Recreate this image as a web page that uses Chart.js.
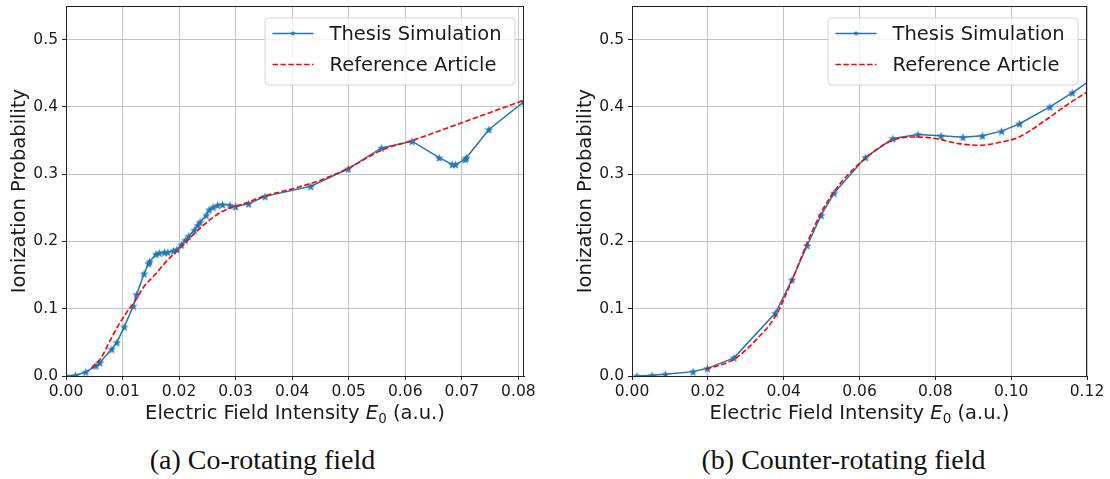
<!DOCTYPE html>
<html>
<head>
<meta charset="utf-8">
<script src="https://cdn.jsdelivr.net/npm/chart.js@4"></script>
<style>
  body { margin: 0; background: #fff; }
  #wrap { position: relative; width: 1110px; height: 479px; }
  .panel { position: absolute; top: 0; }
  .caption {
    position: absolute; top: 444px; width: 555px; text-align: center;
    font-family: "Liberation Serif", serif; font-size: 28px; color: #111;
  }
</style>
</head>
<body>
<div id="wrap">
  <canvas id="co-chart" class="panel" style="left:0" width="555" height="430"></canvas>
  <canvas id="counter-chart" class="panel" style="left:555px" width="555" height="430"></canvas>
  <div class="caption" style="left:-15px">(a) Co-rotating field</div>
  <div class="caption" style="left:566px">(b) Counter-rotating field</div>
</div>
<script>
//Co-rotating field - thesis simulation
const coSimE = [0.0000, 0.0017, 0.0035, 0.0053, 0.0060, 0.0081, 0.0090, 0.0103, 0.0119, 0.0125,
  0.0138, 0.0146, 0.0148, 0.0159, 0.0165, 0.0174, 0.0180, 0.0190, 0.0196, 0.0204,
  0.0211, 0.0217, 0.0227, 0.0233, 0.0237, 0.0248, 0.0253, 0.0260, 0.0268, 0.0277,
  0.0290, 0.0300, 0.0323, 0.0352, 0.0433, 0.0499, 0.0558, 0.0612, 0.0660, 0.0683,
  0.0689, 0.0706, 0.0708, 0.0748, 0.0810];
const coSimP = [0.000, 0.001, 0.006, 0.015, 0.020, 0.040, 0.050, 0.073, 0.104, 0.121,
  0.152, 0.167, 0.170, 0.181, 0.183, 0.184, 0.184, 0.186, 0.188, 0.195,
  0.202, 0.208, 0.217, 0.224, 0.229, 0.239, 0.247, 0.251, 0.254, 0.255,
  0.254, 0.252, 0.256, 0.267, 0.282, 0.308, 0.339, 0.349, 0.3245, 0.3145,
  0.3145, 0.322, 0.3245, 0.3665, 0.408];

//Co-rotating field - reference article
const coRefE = [0.0045, 0.0062, 0.0077, 0.0091, 0.0106, 0.0121, 0.0138, 0.0159, 0.0177, 0.0199,
  0.0224, 0.0247, 0.0271, 0.0294, 0.0318, 0.0342, 0.0412, 0.0450, 0.0500, 0.0559,
  0.0612, 0.0705, 0.0820];
const coRefP = [0.012, 0.027, 0.051, 0.073, 0.093, 0.110, 0.133, 0.152, 0.170, 0.188,
  0.209, 0.227, 0.242, 0.251, 0.257, 0.265, 0.281, 0.291, 0.309, 0.336,
  0.350, 0.378, 0.413];

//Counter-rotating field - thesis simulation
const ctrSimE = [0.0013, 0.0053, 0.0088, 0.0161, 0.0199, 0.0269, 0.0378, 0.0422, 0.0462, 0.0499,
  0.0533, 0.0616, 0.0688, 0.0754, 0.0815, 0.0873, 0.0924, 0.0975, 0.1022, 0.1102,
  0.1161, 0.1215];
const ctrSimP = [0.000, 0.001, 0.0025, 0.0065, 0.0114, 0.027, 0.0935, 0.143, 0.194, 0.239,
  0.272, 0.325, 0.353, 0.359, 0.357, 0.355, 0.357, 0.364, 0.375, 0.400,
  0.421, 0.442];

//Counter-rotating field - reference article
const ctrRefE = [0.0195, 0.0269, 0.0336, 0.0378, 0.0422, 0.0462, 0.0499, 0.0534, 0.0600, 0.0686,
  0.0748, 0.0800, 0.0862, 0.0919, 0.0967, 0.1020, 0.1090, 0.1152, 0.1200];
const ctrRefP = [0.010, 0.025, 0.059, 0.0886, 0.142, 0.198, 0.243, 0.275, 0.316, 0.350,
  0.3553, 0.353, 0.3454, 0.343, 0.347, 0.355, 0.380, 0.405, 0.422];

const yTicks = [0, 0.1, 0.2, 0.3, 0.4, 0.5];
const coXTicks = [0, 0.01, 0.02, 0.03, 0.04, 0.05, 0.06, 0.07, 0.08];
const ctrXTicks = [0, 0.02, 0.04, 0.06, 0.08, 0.1, 0.12];

const seriesLabels = ["Thesis Simulation", "Reference Article"];

const BLUE = "#1f77b4";
const RED = "#ff0000";
const FONT = "DejaVu Sans";

// filled 5-point star like matplotlib "*"
function makeStar(size, color) {
  const c = document.createElement("canvas");
  c.width = size;
  c.height = size;
  const g = c.getContext("2d");
  const r = size / 2;
  g.beginPath();
  for (let i = 0; i < 10; i++) {
    const rad = i % 2 === 0 ? r : r * 0.42;
    const a = -Math.PI / 2 + (i * Math.PI) / 5;
    const px = r + rad * Math.cos(a);
    const py = r + 0.5 + rad * Math.sin(a);
    if (i === 0) g.moveTo(px, py);
    else g.lineTo(px, py);
  }
  g.closePath();
  g.fillStyle = color;
  g.fill();
  return c;
}
const star = makeStar(9, BLUE);

function zip(xs, ys) {
  return xs.map((x, i) => ({ x: x, y: ys[i] }));
}

const frameAndLabels = {
  id: "frameAndLabels",
  afterDraw(chart) {
    const { ctx, chartArea } = chart;
    const { left, right, top, bottom } = chartArea;
    ctx.save();

    // legend
    const bw = 250, bh = 67;
    const bx = right - 9.5 - bw, by = top + 11.5;
    ctx.beginPath();
    ctx.roundRect(bx + 0.5, by + 0.5, bw, bh, 4);
    ctx.fillStyle = "rgba(255,255,255,0.8)";
    ctx.fill();
    ctx.strokeStyle = "#d4d4d4";
    ctx.lineWidth = 1;
    ctx.stroke();

    const hx = bx + 8, hw = 41;
    const y1 = by + 16, y2 = by + 47;
    ctx.strokeStyle = BLUE;
    ctx.lineWidth = 1.5;
    ctx.beginPath();
    ctx.moveTo(hx, y1);
    ctx.lineTo(hx + hw, y1);
    ctx.stroke();
    ctx.drawImage(star, hx + hw / 2 - 3, y1 - 3.5, 6, 6);

    ctx.strokeStyle = RED;
    ctx.setLineDash([5.5, 2.4]);
    ctx.beginPath();
    ctx.moveTo(hx, y2);
    ctx.lineTo(hx + hw, y2);
    ctx.stroke();
    ctx.setLineDash([]);

    ctx.fillStyle = "#1a1a1a";
    ctx.font = "19.5px " + FONT;
    ctx.textBaseline = "middle";
    ctx.textAlign = "left";
    ctx.fillText(seriesLabels[0], bx + 65, y1 + 1);
    ctx.fillText(seriesLabels[1], bx + 65, y2 + 1);

    // axes frame
    ctx.strokeStyle = "#222";
    ctx.lineWidth = 1;
    ctx.strokeRect(Math.round(left) + 0.5, Math.round(top) + 0.5,
      Math.round(right - left) - 1, Math.round(bottom - top));

    // y title
    ctx.save();
    ctx.translate(left - 46, (top + bottom) / 2);
    ctx.rotate(-Math.PI / 2);
    ctx.textAlign = "center";
    ctx.textBaseline = "middle";
    ctx.font = "19.5px " + FONT;
    ctx.fillText("Ionization Probability", 0, 0);
    ctx.restore();

    // x title with italic E and subscript 0
    const parts = [
      ["Electric Field Intensity ", "19.5px " + FONT, 0],
      ["E", "italic 19.5px " + FONT, 0],
      ["0", "13.5px " + FONT, 4],
      [" (a.u.)", "19.5px " + FONT, 0],
    ];
    let total = 0;
    parts.forEach((p) => {
      ctx.font = p[1];
      total += ctx.measureText(p[0]).width;
    });
    let cx = (left + right) / 2 - total / 2;
    const base = bottom + 43;
    ctx.textAlign = "left";
    ctx.textBaseline = "alphabetic";
    parts.forEach((p) => {
      ctx.font = p[1];
      ctx.fillText(p[0], cx, base + p[2]);
      cx += ctx.measureText(p[0]).width;
    });

    ctx.restore();
  },
};

function makeChart(canvas, sim, ref, xMax, xTicks, yWidth, padRight, xDigits) {
  return new Chart(canvas, {
    type: "scatter",
    data: {
      datasets: [
        {
          label: seriesLabels[0],
          data: sim,
          showLine: true,
          borderColor: BLUE,
          borderWidth: 1.5,
          pointStyle: star,
          pointRadius: 4.5,
          order: 1,
        },
        {
          label: seriesLabels[1],
          data: ref,
          showLine: true,
          borderColor: RED,
          borderWidth: 1.6,
          borderDash: [5.5, 2.4],
          pointRadius: 0,
          cubicInterpolationMode: "monotone",
          order: 0,
        },
      ],
    },
    options: {
      responsive: false,
      animation: false,
      layout: { padding: { top: 6, right: padRight, left: 0, bottom: 0 } },
      plugins: { legend: { display: false }, tooltip: { enabled: false } },
      scales: {
        x: {
          type: "linear",
          min: 0,
          max: xMax,
          afterBuildTicks(scale) {
            scale.ticks = xTicks.map((v) => ({ value: v }));
          },
          afterFit(scale) {
            scale.height = 54;
            scale.paddingLeft = 0;
            scale.paddingRight = 0;
          },
          grid: { color: "#c4c4c4", tickColor: "#222", tickLength: 4, lineWidth: 1 },
          border: { color: "#222" },
          ticks: {
            padding: 3,
            color: "#1a1a1a",
            font: { family: FONT, size: 15.5 },
            maxRotation: 0,
            callback: (v) => v.toFixed(xDigits),
          },
        },
        y: {
          min: 0,
          max: 0.55,
          afterBuildTicks(scale) {
            scale.ticks = yTicks.map((v) => ({ value: v }));
          },
          afterFit(scale) {
            scale.width = yWidth;
            scale.paddingTop = 0;
            scale.paddingBottom = 0;
          },
          grid: { color: "#c4c4c4", tickColor: "#222", tickLength: 4, lineWidth: 1 },
          border: { color: "#222" },
          ticks: {
            padding: 4,
            color: "#1a1a1a",
            font: { family: FONT, size: 15.5 },
            callback: (v) => v.toFixed(1),
          },
        },
      },
    },
    plugins: [frameAndLabels],
  });
}

makeChart(document.getElementById("co-chart"), zip(coSimE, coSimP), zip(coRefE, coRefP),
  0.081, coXTicks, 66, 31, 2);
makeChart(document.getElementById("counter-chart"), zip(ctrSimE, ctrSimP), zip(ctrRefE, ctrRefP),
  0.12, ctrXTicks, 77, 23, 2);
</script>
</body>
</html>
